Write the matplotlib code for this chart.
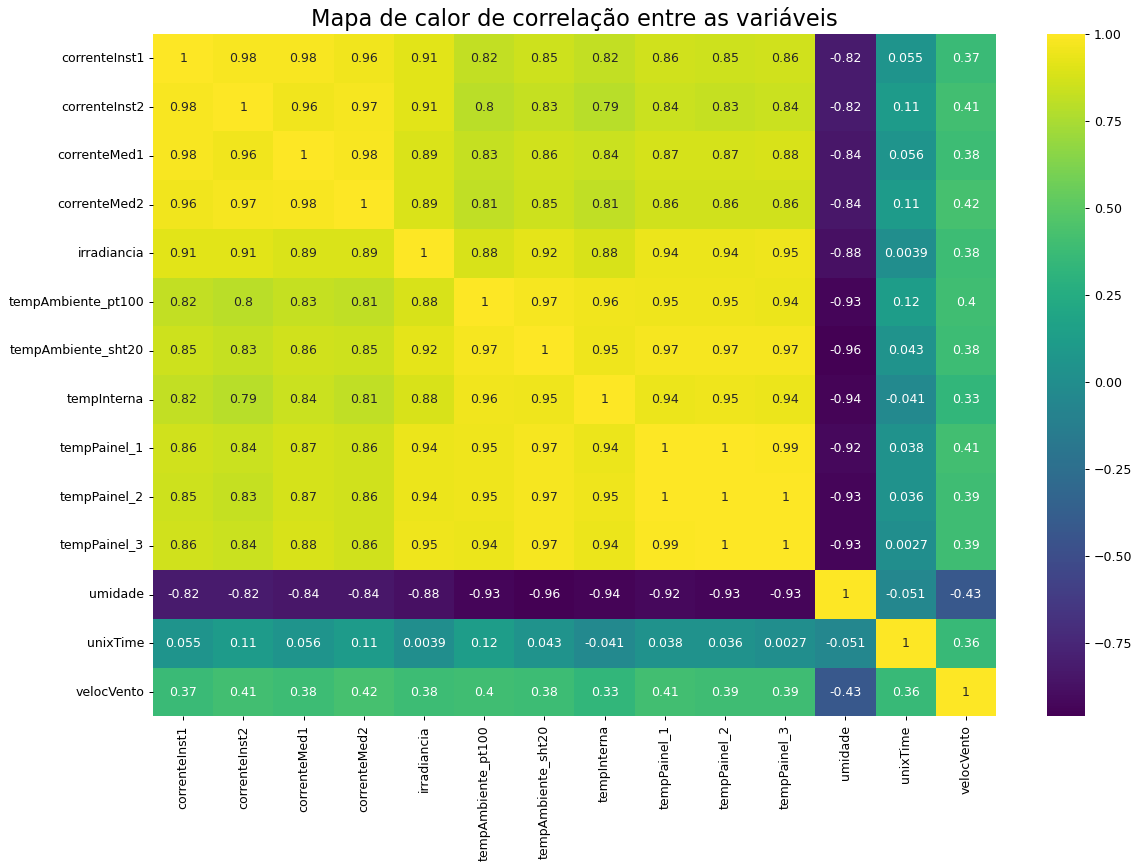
import numpy as np
import matplotlib
matplotlib.use("Agg")
import matplotlib.pyplot as plt
import seaborn as sns

variables = ["correnteInst1", "correnteInst2", "correnteMed1", "correnteMed2",
             "irradiancia", "tempAmbiente_pt100", "tempAmbiente_sht20", "tempInterna",
             "tempPainel_1", "tempPainel_2", "tempPainel_3", "umidade", "unixTime",
             "velocVento"]

r_correnteInst1 = [1, .98, .98, .96, .91, .82, .85, .82, .86, .85, .86, -.82, .055, .37]
r_correnteInst2 = [.98, 1, .96, .97, .91, .8, .83, .79, .84, .83, .84, -.82, .11, .41]
r_correnteMed1 = [.98, .96, 1, .98, .89, .83, .86, .84, .87, .87, .88, -.84, .056, .38]
r_correnteMed2 = [.96, .97, .98, 1, .89, .81, .85, .81, .86, .86, .86, -.84, .11, .42]
r_irradiancia = [.91, .91, .89, .89, 1, .88, .92, .88, .94, .94, .95, -.88, .0039, .38]
r_tempAmb_pt100 = [.82, .8, .83, .81, .88, 1, .97, .96, .95, .95, .94, -.93, .12, .4]
r_tempAmb_sht20 = [.85, .83, .86, .85, .92, .97, 1, .95, .97, .97, .97, -.96, .043, .38]
r_tempInterna = [.82, .79, .84, .81, .88, .96, .95, 1, .94, .95, .94, -.94, -.041, .33]
r_tempPainel_1 = [.86, .84, .87, .86, .94, .95, .97, .94, 1, 1, .99, -.92, .038, .41]
r_tempPainel_2 = [.85, .83, .87, .86, .94, .95, .97, .95, 1, 1, 1, -.93, .036, .39]
r_tempPainel_3 = [.86, .84, .88, .86, .95, .94, .97, .94, .99, 1, 1, -.93, .0027, .39]
r_umidade = [-.82, -.82, -.84, -.84, -.88, -.93, -.96, -.94, -.92, -.93, -.93, 1, -.051, -.43]
r_unixTime = [.055, .11, .056, .11, .0039, .12, .043, -.041, .038, .036, .0027, -.051, 1, .36]
r_velocVento = [.37, .41, .38, .42, .38, .4, .38, .33, .41, .39, .39, -.43, .36, 1]

corr = np.array([r_correnteInst1, r_correnteInst2, r_correnteMed1, r_correnteMed2,
                 r_irradiancia, r_tempAmb_pt100, r_tempAmb_sht20, r_tempInterna,
                 r_tempPainel_1, r_tempPainel_2, r_tempPainel_3, r_umidade,
                 r_unixTime, r_velocVento])

fig = plt.figure(figsize=(1136 / 90, 864 / 90), dpi=90)
ax = fig.add_axes([0.1347, 0.1708, 0.742, 0.790])
cax = fig.add_axes([0.9217, 0.1708, 0.0335, 0.790])

sns.heatmap(corr, annot=True, cmap="viridis", ax=ax, cbar_ax=cax,
            xticklabels=variables, yticklabels=variables,
            annot_kws={"fontsize": 10})
ax.set_title("Mapa de calor de correlação entre as variáveis", fontsize=18)
ax.tick_params(labelsize=10)
plt.setp(ax.get_xticklabels(), rotation=90)
plt.setp(ax.get_yticklabels(), rotation=0)
cax.tick_params(labelsize=10)

fig.savefig("out.png", dpi=90)
